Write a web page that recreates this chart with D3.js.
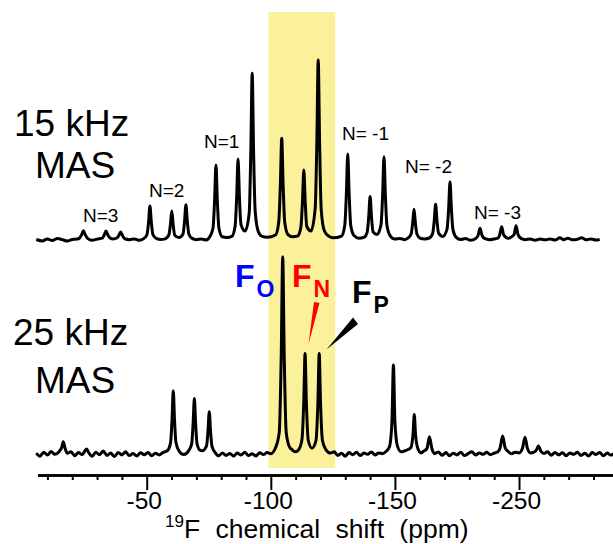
<!DOCTYPE html>
<html>
<head>
<meta charset="utf-8">
<script src="https://cdn.jsdelivr.net/npm/d3@7"></script>
<style>
  body { margin: 0; background: #fff; }
  svg { display: block; font-family: Arial, "Liberation Sans", sans-serif; }
</style>
</head>
<body>
<svg width="613" height="544"></svg>
<script>

// 15 kHz MAS trace: [ppm, intensity]
var trace15 = [
  [-5.5,0.3],[-8,-0.5],[-10,0.6],[-12,-0.3],[-14,0.8],[-16,0.2],[-18,-0.6],[-20,0.3],[-22,0.5],
  [-23,1.2],[-23.8,3.0],[-24.5,5.2],[-25.2,3.0],[-26.2,0.9],[-28,-0.2],[-30,0.5],
  [-32.1,1.0],[-32.9,2.9],[-33.6,5.0],[-34.3,2.9],[-35.3,1.0],[-36.5,0.6],
  [-38,1.1],[-38.8,2.6],[-39.5,4.4],[-40.2,2.6],[-41.2,0.7],[-43,0.2],[-45,0.6],[-47,-0.2],
  [-48.8,0.8],[-50.1,3.0],[-50.75,10],[-51.3,18.9],[-51.85,10],[-52.5,3.0],[-54,0.8],[-55.7,0.3],[-57,0.5],
  [-57.7,0.9],[-58.9,2.7],[-59.55,8.6],[-60.1,16.1],[-60.65,8.6],[-61.3,2.7],[-63,1.4],
  [-64.6,3.2],[-65.25,10.5],[-65.8,19.6],[-66.35,10.5],[-67,3.2],[-68.3,0.9],[-70,0.2],[-72,0.6],[-74,0],
  [-75.4,1.8],[-76.7,6.5],[-77.35,22],[-77.9,41.7],[-78.45,22],[-79.1,6.5],[-80.4,1.8],[-82.3,1.4],
  [-84.3,2.0],[-85.6,7.5],[-86.25,24],[-86.8,45],[-87.35,24],[-88,8.5],[-89.65,5.0],
  [-91.3,15],[-91.95,50],[-92.5,92.6],[-93.05,50],[-93.7,16],[-95,4.5],[-96.5,2.0],[-98.5,1.5],
  [-101.9,2.8],[-103.2,10],[-103.85,31],[-104.4,56.5],[-104.95,31],[-105.6,10],[-106.9,3.0],[-108.8,1.8],
  [-110.8,2.2],[-112.1,7],[-112.75,21.5],[-113.3,38.9],[-113.85,21.5],[-114.5,7.5],[-116.2,5.0],
  [-117.9,18],[-118.55,55],[-119.1,100],[-119.65,55],[-120.3,17],[-121.6,5],[-123.5,2],[-125,1.2],
  [-128.5,2.2],[-129.8,8.2],[-130.45,26],[-131,47.8],[-131.55,26],[-132.2,8.2],[-133.5,2.5],[-135.5,1.0],
  [-137.5,1.5],[-138.8,4.2],[-139.45,13],[-140,24.1],[-140.55,13],[-141.2,4.5],[-142.8,3.0],
  [-144.4,8.5],[-145.05,25],[-145.6,46.3],[-146.15,25],[-146.8,8],[-148.1,2.3],[-150,0.5],[-152,0.9],[-154,0.2],
  [-155.2,1.0],[-156.5,3.2],[-157.15,9.3],[-157.7,17.1],[-158.25,9.3],[-158.9,3.2],[-160.2,1.0],[-162,0.6],
  [-163.9,1.1],[-165.2,3.6],[-165.85,10.8],[-166.4,19.8],[-166.95,10.8],[-167.6,3.8],[-169.3,2.0],
  [-171,6],[-171.65,17.6],[-172.2,32.4],[-172.75,17.6],[-173.4,5.6],[-174.7,1.5],[-176.5,0.3],[-178.5,0.8],[-180.5,-0.2],
  [-182.5,0.8],[-183.5,2.5],[-184.3,6.5],[-185.1,2.5],[-186.3,0.7],[-188,0.2],[-190,0.6],
  [-191.5,1.0],[-192.2,2.8],[-193,7.4],[-193.8,2.8],[-195.6,1.0],
  [-198,3.0],[-198.8,7.9],[-199.6,3.0],[-200.8,0.9],[-202.5,0.2],[-204.5,0.6],[-206.5,-0.1],[-208.5,0.5],
  [-210.5,0.1],[-212.5,0.6],[-214.5,0],[-216.5,1.2],[-218,0.2],[-219.7,1.0],[-221.5,0.1],[-223.5,0.4],
  [-225.2,1.2],[-227,0.1],[-229,0.6],[-231,0],[-232.5,0.3]
];

// 25 kHz MAS trace: [ppm, intensity]
var trace25 = [
  [-5.5,0.5],[-7,-1.2],[-8.5,1.0],[-10,-0.6],[-11.5,1.4],[-13,-0.2],
  [-14.8,1.5],[-15.7,3.5],[-16.4,6.8],[-17.1,3.2],[-18,0.4],[-19.5,1.2],[-21,-1.0],[-22.5,0.8],[-24,-0.3],
  [-25,1.5],[-25.8,2.8],[-26.6,0.8],[-28,-1.3],[-29.5,1.0],[-31,-0.4],[-32.5,1.6],[-34,-0.8],[-35.5,0.5],
  [-37,-1.4],[-38.5,0.9],[-40,-0.5],[-41.5,1.2],[-43,-0.9],[-44.5,0.3],[-46,-1.1],[-47.5,0.7],[-49,-0.4],
  [-50.5,0.9],[-52,-1.0],[-53.5,0.4],[-55,-0.5],[-56.5,0.8],
  [-58.3,1.8],[-59.6,6.2],[-60.2,19],[-60.7,35.2],[-61.2,19],[-61.8,6.2],[-63.1,1.5],[-65,-0.3],
  [-66.8,1.6],[-68.1,5.5],[-68.7,17],[-69.2,30.9],[-69.7,17],[-70.3,5.5],[-71.6,2.0],[-72.4,1.8],
  [-74.1,4.5],[-74.7,13],[-75.2,23.5],[-75.7,13],[-76.3,4.2],[-77.6,0.8],[-79,-1.0],[-80.5,0.6],[-82,-0.8],
  [-83.5,0.3],[-85,-1.2],[-86.5,0.5],[-88,-0.6],[-89.5,1.0],[-91,-0.9],[-92.5,0.2],[-94,-1.1],[-95.5,0.7],
  [-97,-0.3],[-98.5,0.8],[-100,0.2],
  [-101.9,3.5],[-103.4,12],[-104.2,55],[-104.8,109.6],[-105.4,55],[-106.2,12],[-107.5,4.0],[-108.5,2.5],[-109.8,1.2],[-111,2.0],
  [-112.5,7.5],[-113.3,30],[-113.8,55.9],[-114.3,30],[-115.1,7.5],[-116.6,3.2],
  [-118.2,7.5],[-119,30],[-119.5,55.9],[-120,30],[-120.8,7.5],[-122.3,2.2],[-124,0.5],[-125.5,1.2],[-127,-0.8],
  [-128.5,0.4],[-130,-1.2],[-131.5,0.8],[-133,-0.4],[-134.5,1.0],[-136,-0.9],[-137.5,0.5],[-139,-0.2],
  [-140.5,1.1],[-142,-0.6],[-143.5,0.6],[-145,0.2],[-146.5,1.5],
  [-147.8,4.0],[-148.8,18],[-149.4,49.4],[-150,18],[-151,4.5],[-152.5,1.2],[-154,1.8],
  [-156.4,3.5],[-157.3,11],[-157.8,22],[-158.3,11],[-159.2,3.2],[-160.6,0.6],[-161.5,1.5],
  [-162.9,3.0],[-163.9,9.6],[-164.9,3.0],[-166,0.2],[-167.5,1.1],[-169,-0.7],[-170.5,0.8],[-172,-1.0],
  [-173.5,0.4],[-175,-0.5],[-176.5,1.0],[-178,-0.9],[-179.5,0.2],[-181,1.3],[-182.5,-0.6],[-184,0.6],
  [-185.5,-0.2],[-187,1.0],[-188.5,-0.4],[-190,0.5],[-191.5,1.2],
  [-192.4,3.5],[-193.4,10],[-194.4,3.5],[-195.5,1.5],[-197,0.2],[-198.5,1.0],[-200,0.6],
  [-201.4,3.2],[-202.4,9.3],[-203.4,3.0],[-204.6,0.6],[-206,1.0],
  [-207,2.2],[-207.8,4.4],[-208.8,1.6],[-210,0.3],[-211.5,1.2],[-213,-0.7],[-214.5,0.9],[-216,-0.5],
  [-217.5,0.7],[-219,-1.0],[-220.5,0.6],[-222,-0.2],[-223.5,1.0],[-225,-0.8],[-226.5,0.4],[-228,-1.1],
  [-229.5,0.8],[-231,-0.3],[-232.5,0.9],[-234,-1.0],[-235.5,0.5],[-237,-0.6],[-238.5,0.4]
];

var highlight = [-99, -126];
var majorTicks = [-50, -100, -150, -200];
var tickLabels = ["-50", "-100", "-150", "-250"];
var minorTicks = [-10,-20,-30,-40,-60,-70,-80,-90,-110,-120,-130,-140,-160,-170,-180,-190,-210,-220,-230];
var sidebandLabels = ["N=3", "N=2", "N=1", "N= -1", "N= -2", "N= -3"];
var speedLabels = ["15 kHz", "25 kHz"];

var svg = d3.select("svg"),
    axisY = 475;

var x = d3.scaleLinear().domain([-6, -240]).range([37.5, 618.3]);
var yTop = d3.scaleLinear().domain([0, 100]).range([240, 60]);
var yBot = d3.scaleLinear().domain([0, 100]).range([454, 274]);

// yellow band
svg.append("rect")
    .attr("x", x(highlight[0]))
    .attr("y", 12)
    .attr("width", x(highlight[1]) - x(highlight[0]))
    .attr("height", 456)
    .attr("fill", "#fbf19b");

function drawTrace(data, y, w) {
  var line = d3.line()
      .x(function(d) { return x(d[0]); })
      .y(function(d) { return y(d[1]); })
      .curve(d3.curveMonotoneX);
  svg.append("path")
      .datum(data)
      .attr("d", line)
      .attr("fill", "none")
      .attr("stroke", "#000")
      .attr("stroke-width", w)
      .attr("stroke-linejoin", "round");
}
drawTrace(trace15, yTop, 3);
drawTrace(trace25, yBot, 3);

// axis
var gMinor = svg.append("g")
    .attr("transform", "translate(0," + axisY + ")")
    .call(d3.axisBottom(x).tickValues(minorTicks).tickSize(5).tickSizeOuter(0).tickFormat(""));
var gMajor = svg.append("g")
    .attr("transform", "translate(0," + axisY + ")")
    .call(d3.axisBottom(x).tickValues(majorTicks).tickSize(15).tickSizeOuter(0).tickPadding(2)
      .tickFormat(function(d, i) { return tickLabels[i]; }));
svg.selectAll(".domain").attr("stroke", "#000").attr("stroke-width", 2.5);
svg.selectAll(".tick line").attr("stroke", "#000").attr("stroke-width", 2);
gMajor.selectAll(".tick text")
    .attr("font-family", "Arial, 'Liberation Sans', sans-serif")
    .attr("font-size", 24.5)
    .attr("fill", "#000")
    .attr("dx", -3);

var title = svg.append("text")
    .attr("x", 165)
    .attr("y", 538)
    .attr("font-size", 26.5)
    .attr("word-spacing", 8)
    .attr("fill", "#000");
title.append("tspan").attr("font-size", 17).attr("dy", -11).text("19");
title.append("tspan").attr("dy", 11).text("F chemical shift (ppm)");

// MAS speed labels
var speedPos = [[14, 136, 35, 178], [13, 345, 35, 393]];
speedLabels.forEach(function(s, i) {
  var p = speedPos[i];
  svg.append("text").attr("x", p[0]).attr("y", p[1]).attr("font-size", 37).text(s);
  svg.append("text").attr("x", p[2]).attr("y", p[3]).attr("font-size", 37).text("MAS");
});

// sideband order labels
var sbPos = [[83, 222], [149, 197], [204, 148], [342, 140], [405, 173], [474, 219]];
svg.selectAll(".sb")
    .data(sidebandLabels)
    .enter().append("text")
      .attr("class", "sb")
      .attr("x", function(d, i) { return sbPos[i][0]; })
      .attr("y", function(d, i) { return sbPos[i][1]; })
      .attr("font-size", 19)
      .text(function(d) { return d; });

// site labels
var sites = [
  {f: "O", color: "#0000ff", x: 235, y: 287},
  {f: "N", color: "#ff0000", x: 292, y: 287},
  {f: "P", color: "#000000", x: 352, y: 303}
];
sites.forEach(function(s) {
  var t = svg.append("text")
      .attr("x", s.x).attr("y", s.y)
      .attr("font-weight", "bold")
      .attr("font-size", 32)
      .attr("fill", s.color);
  t.append("tspan").text("F");
  t.append("tspan").attr("font-size", 23).attr("dx", 2).attr("dy", 10).text(s.f);
});

svg.append("polygon")
    .attr("points", "314,302 319.5,303 308.5,344")
    .attr("fill", "#ff0000");
svg.append("polygon")
    .attr("points", "353,317.5 358,324 326.5,349.5")
    .attr("fill", "#000");

</script>
</body>
</html>
